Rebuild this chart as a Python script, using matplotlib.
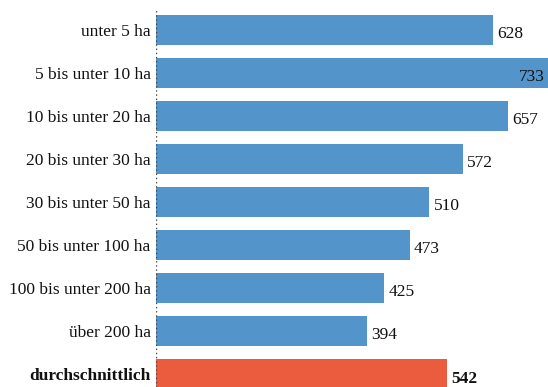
import matplotlib.pyplot as plt

# Betriebsgrößenklassen und Werte
categories = ["unter 5 ha", "5 bis unter 10 ha", "10 bis unter 20 ha",
              "20 bis unter 30 ha", "30 bis unter 50 ha", "50 bis unter 100 ha",
              "100 bis unter 200 ha", "über 200 ha", "durchschnittlich"]
values = [628, 733, 657, 572, 510, 473, 425, 394, 542]

blue = "#5394CA"
red = "#EB5B3E"
colors = [blue] * 8 + [red]

plt.rcParams['font.family'] = ['Liberation Serif', 'DejaVu Serif']

fig = plt.figure(figsize=(5.48, 3.87), dpi=100)
ax = fig.add_axes([156 / 548, 0, 1 - 156 / 548, 1])

pos = list(range(len(values)))
ax.barh(pos, values, height=0.72, color=colors, zorder=2)

ax.set_xlim(0, 731)
ax.set_ylim(8.302, -0.698)

for spine in ax.spines.values():
    spine.set_visible(False)
ax.set_xticks([])
ax.set_yticks([])

# gepunktete Nulllinie
ax.axvline(0, ymin=0, ymax=1 - 9 / 387, color="#444444", linestyle=(0, (1, 2)),
           linewidth=1.0, zorder=3)

fs = 12.5
for i, (cat, v) in enumerate(zip(categories, values)):
    bold = i == len(values) - 1
    weight = "bold" if bold else "normal"
    ax.text(-10, i + 0.04, cat, ha="right", va="center", fontsize=fs,
            fontweight=weight, color="#111111")
    if v == max(values):
        ax.text(v - 8, i + 0.1, str(v), ha="right", va="center",
                fontsize=fs, color="#111111", zorder=4)
    else:
        dy = 0.12 if bold else 0.1
        ax.text(v + 8, i + dy, str(v), ha="left", va="center", fontsize=fs,
                fontweight=weight, color="#111111")

fig.savefig("out.png", dpi=100)
